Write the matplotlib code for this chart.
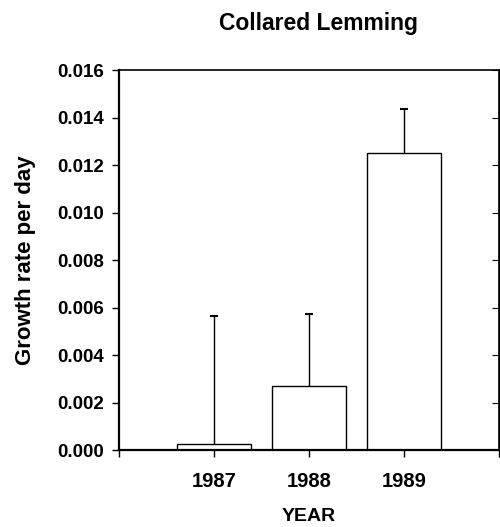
import numpy as np
import matplotlib
matplotlib.use("Agg")
import matplotlib.pyplot as plt

plt.rcParams['font.family'] = ['Liberation Sans', 'DejaVu Sans']
plt.rcParams['font.weight'] = 'bold'
plt.rcParams['axes.labelweight'] = 'bold'

years = ['1987', '1988', '1989']
growth = [0.00025, 0.0027, 0.01252]
err_up = [0.00539, 0.00303, 0.00184]

fig = plt.figure(figsize=(5.0, 5.27), dpi=100)
ax = fig.add_axes([0.238, 0.146, 0.76, 0.721])

x = np.arange(1, len(years) + 1)
ax.bar(x, growth, width=0.78, color='white', edgecolor='black', linewidth=1.0)
eb = ax.errorbar(x, growth, yerr=[np.zeros(len(x)), err_up], fmt='none',
                 ecolor='black', elinewidth=1.0, capsize=3, capthick=1.5)
# only the upper caps
eb[1][0].set_visible(False)

ax.set_xlim(0, 4)
ax.set_ylim(0, 0.016)
ax.set_xticks([0, 1, 2, 3, 4])
ax.set_xticklabels([''] + years + [''])
yt = np.arange(0, 0.0161, 0.002)
ax.set_yticks(yt)
ax.set_yticklabels([f'{v:.3f}' for v in yt])

for s in ax.spines.values():
    s.set_linewidth(1.2)
ax.spines['left'].set_linewidth(1.6)
ax.spines['bottom'].set_linewidth(1.6)

ax.tick_params(axis='y', direction='out', length=5, width=1, pad=6, labelsize=13.5)
ax.tick_params(axis='x', direction='out', length=5, width=1, pad=11, labelsize=14.5)
ax2 = ax.secondary_yaxis('right')
ax2.set_yticks(yt)
ax2.tick_params(direction='in', length=5, labelright=False)

ax.set_ylabel('Growth rate per day', fontsize=16, labelpad=15)
ax.set_xlabel('YEAR', fontsize=14, labelpad=12)
ax.set_title('Collared Lemming', fontsize=16.5, fontweight='bold', pad=29, x=0.525)

fig.savefig('out.png', dpi=100)
